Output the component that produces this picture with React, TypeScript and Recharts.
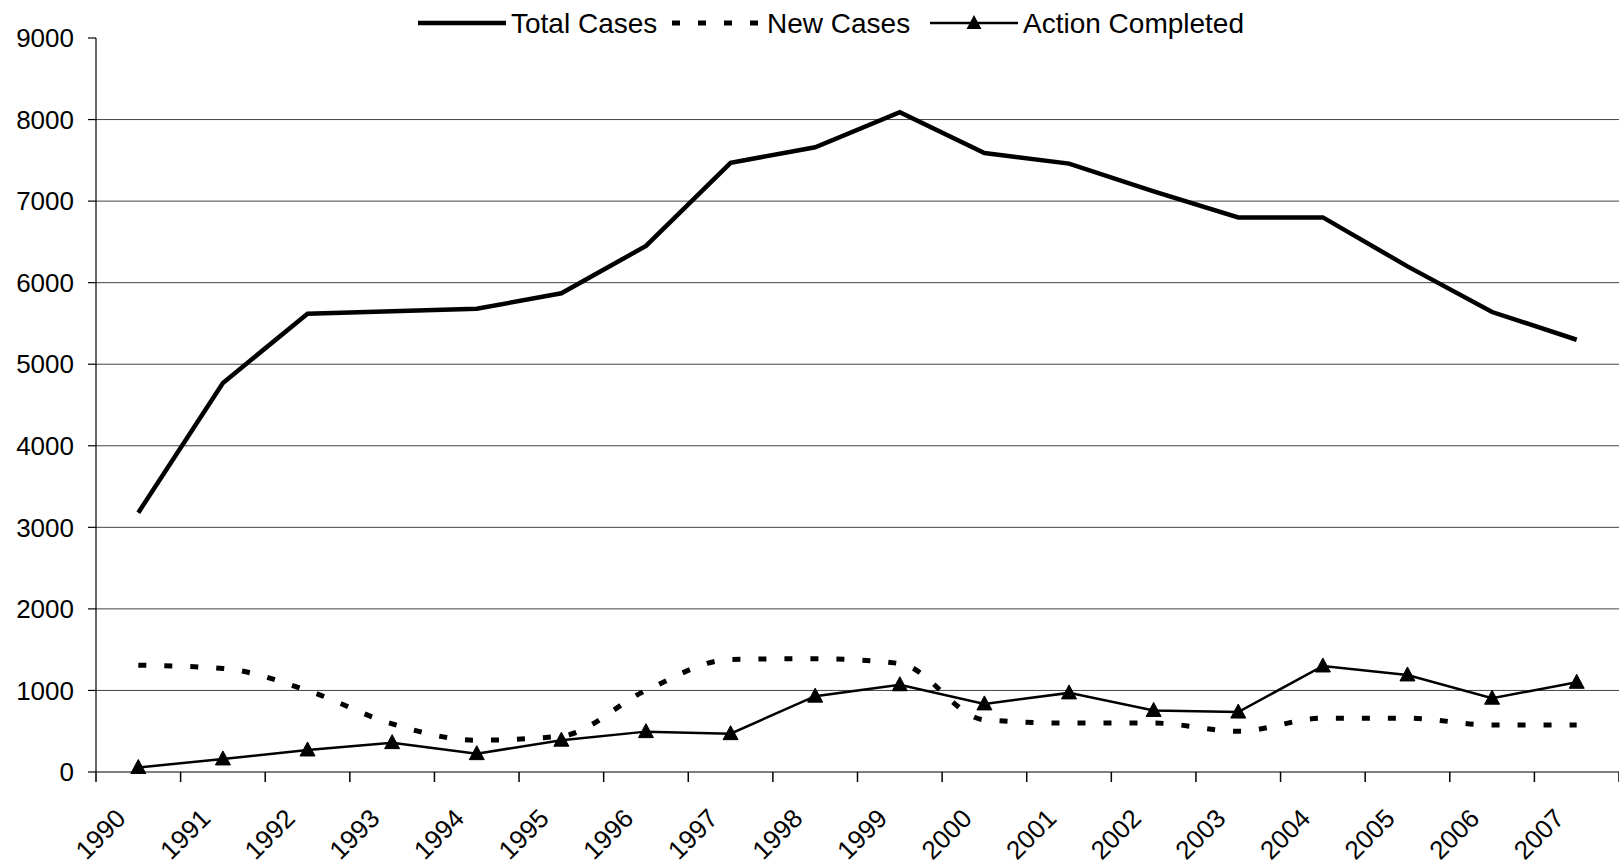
import React from 'react';
import { LineChart, Line, XAxis, YAxis, CartesianGrid, Legend } from 'recharts';

const years = ['1990', '1991', '1992', '1993', '1994', '1995', '1996', '1997', '1998', '1999', '2000', '2001', '2002', '2003', '2004', '2005', '2006', '2007'];
const totalCases = [3180, 4770, 5620, 5650, 5680, 5870, 6450, 7470, 7660, 8090, 7590, 7460, 7120, 6800, 6800, 6200, 5640, 5300];
const newCases = [1310, 1270, 1000, 590, 390, 440, 1000, 1380, 1390, 1330, 640, 600, 600, 500, 660, 660, 575, 575];
const actionCompleted = [55, 160, 270, 360, 225, 390, 495, 470, 930, 1070, 835, 970, 755, 735, 1300, 1190, 905, 1100];
const yTicks = [0, 1000, 2000, 3000, 4000, 5000, 6000, 7000, 8000, 9000];
const gridValues = [1000, 2000, 3000, 4000, 5000, 6000, 7000, 8000];

const FONT = '"Liberation Sans", Arial, sans-serif';

const chartData = years.map((year, i) => ({
    pos: i + 0.5,
    year,
    total: totalCases[i],
    fresh: newCases[i],
    action: actionCompleted[i],
}));

// ticks at category edges (tick marks) and centres (labels)
const xTicks = Array.from({ length: years.length * 2 + 1 }, (_, k) => k / 2);

const XTick = (props: any) => {
    const { x, y, payload } = props;
    const v = payload.value;
    if (Number.isInteger(v)) {
        return <line x1={x} x2={x} y1={y} y2={y + 10} stroke="#000" strokeWidth={1.5} />;
    }
    const label = years[Math.floor(v)];
    const ax = x - 11;
    const ay = y + 48;
    return (
        <text x={ax} y={ay} transform={`rotate(-45 ${ax} ${ay})`} textAnchor="end" fontSize={26} fontFamily={FONT} fill="#000">
            {label}
        </text>
    );
};

const triPath = (cx: number, cy: number) => `M${cx},${cy - 8} L${cx + 7.5},${cy + 6} L${cx - 7.5},${cy + 6} Z`;

const TriangleDot = (props: any) => {
    const { cx, cy, index } = props;
    if (cx == null || cy == null) return null;
    return <path key={`tri-${index}`} d={triPath(cx, cy)} fill="#000" stroke="#000" strokeWidth={1} />;
};

const renderLegend = () => (
    <svg width={1619} height={46} style={{ display: 'block' }}>
        <line x1={418} x2={506} y1={23} y2={23} stroke="#000" strokeWidth={4.5} />
        <text x={511} y={33} fontSize={28} fontFamily={FONT} fill="#000">Total Cases</text>
        <line x1={672} x2={762} y1={23} y2={23} stroke="#000" strokeWidth={5} strokeDasharray="8 18" />
        <text x={767} y={33} fontSize={28} fontFamily={FONT} fill="#000">New Cases</text>
        <line x1={930} x2={1018} y1={23} y2={23} stroke="#000" strokeWidth={2.5} />
        <path d={triPath(974, 23)} fill="#000" />
        <text x={1023} y={33} fontSize={28} fontFamily={FONT} fill="#000">Action Completed</text>
    </svg>
);

export default function App() {
    return (
        <div style={{ width: 1619, height: 865, background: '#fff' }}>
            <style>{`body{margin:0;background:#fff}`}</style>
            <LineChart width={1619} height={865} data={chartData} margin={{ top: 38, right: 0, left: 0, bottom: 0 }}>
                <CartesianGrid vertical={false} horizontalValues={gridValues} stroke="#444" strokeWidth={1} />
                <XAxis
                    dataKey="pos"
                    type="number"
                    domain={[0, years.length]}
                    ticks={xTicks}
                    interval={0}
                    allowDecimals
                    tickLine={false}
                    tickSize={0}
                    tickMargin={0}
                    height={93}
                    axisLine={{ stroke: '#000', strokeWidth: 1.2 }}
                    tick={<XTick />}
                />
                <YAxis
                    type="number"
                    domain={[0, 9000]}
                    ticks={yTicks}
                    interval={0}
                    width={96}
                    tickSize={8}
                    tickMargin={14}
                    axisLine={{ stroke: '#000', strokeWidth: 1.2 }}
                    tickLine={{ stroke: '#000', strokeWidth: 1.2 }}
                    tick={{ fontSize: 26, fontFamily: FONT, fill: '#000' }}
                />
                <Legend verticalAlign="middle" align="center" layout="horizontal" wrapperStyle={{ top: 0, left: 0, width: 1619, height: 46 }} content={renderLegend} />
                <Line dataKey="total" name="Total Cases" type="linear" stroke="#000" strokeWidth={4.5} dot={false} activeDot={false} isAnimationActive={false} />
                <Line dataKey="fresh" name="New Cases" type="monotone" stroke="#000" strokeWidth={5} strokeDasharray="8 18" dot={false} activeDot={false} isAnimationActive={false} />
                <Line dataKey="action" name="Action Completed" type="linear" stroke="#000" strokeWidth={2.5} dot={<TriangleDot />} activeDot={false} isAnimationActive={false} />
            </LineChart>
        </div>
    );
}
